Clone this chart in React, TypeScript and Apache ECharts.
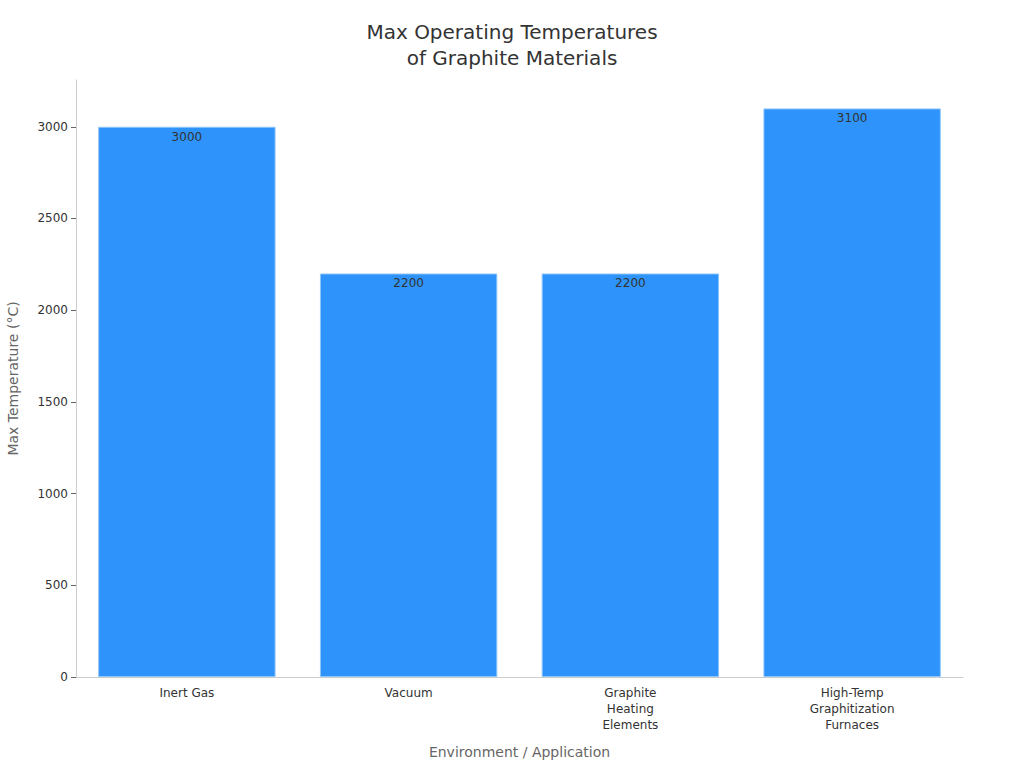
import { useEffect, useRef } from 'react';
import * as echarts from 'echarts';

const categories = ['Inert Gas', 'Vacuum', 'Graphite\nHeating\nElements', 'High-Temp\nGraphitization\nFurnaces'];
const maxTemps = [3000, 2200, 2200, 3100];
const yTicks = [0, 500, 1000, 1500, 2000, 2500, 3000];

const font = 'DejaVu Sans, sans-serif';

export default function App() {
  const ref = useRef<HTMLDivElement | null>(null);
  useEffect(() => {
    document.body.style.margin = '0';
    if (!ref.current) return;
    const chart = echarts.init(ref.current, undefined, { renderer: 'svg' });
    chart.setOption({
      animation: false,
      backgroundColor: '#fff',
      textStyle: { fontFamily: font },
      title: {
        text: 'Max Operating Temperatures\nof Graphite Materials',
        left: 'center',
        top: 14,
        textStyle: { fontSize: 20, fontWeight: 'normal', color: '#333', lineHeight: 26, fontFamily: font },
      },
      grid: { left: 76, right: 61, top: 80, bottom: 91, outerBoundsMode: 'none', containLabel: false },
      xAxis: {
        type: 'category',
        data: categories,
        name: 'Environment / Application',
        nameLocation: 'middle',
        nameGap: 68,
        nameTextStyle: { fontSize: 14, color: '#666', fontFamily: font },
        axisLine: { lineStyle: { color: '#ccc' } },
        axisTick: { alignWithLabel: true, length: 5, lineStyle: { color: '#666' } },
        axisLabel: { fontSize: 12, color: '#333', lineHeight: 16, margin: 8, fontFamily: font },
      },
      yAxis: {
        type: 'value',
        min: 0,
        max: 3255,
        name: 'Max Temperature (°C)',
        nameLocation: 'middle',
        nameGap: 56,
        nameTextStyle: { fontSize: 14, color: '#666', fontFamily: font },
        axisLine: { show: true, lineStyle: { color: '#ccc' } },
        axisTick: { show: true, length: 5, lineStyle: { color: '#666' }, customValues: yTicks },
        axisLabel: {
          fontSize: 12,
          color: '#333',
          margin: 8,
          customValues: yTicks,
          formatter: (v: number) => String(v),
          fontFamily: font,
        },
        splitLine: { show: false },
      },
      series: [
        {
          type: 'bar',
          data: maxTemps,
          barWidth: '80%',
          itemStyle: { color: '#2E93FA', borderColor: '#8EC5FC', borderWidth: 1 },
          label: { show: true, position: 'insideTop', distance: 4, fontSize: 12, color: '#333', fontFamily: font },
        },
      ],
    });
    return () => chart.dispose();
  }, []);
  return <div ref={ref} style={{ width: 1024, height: 768 }} />;
}
